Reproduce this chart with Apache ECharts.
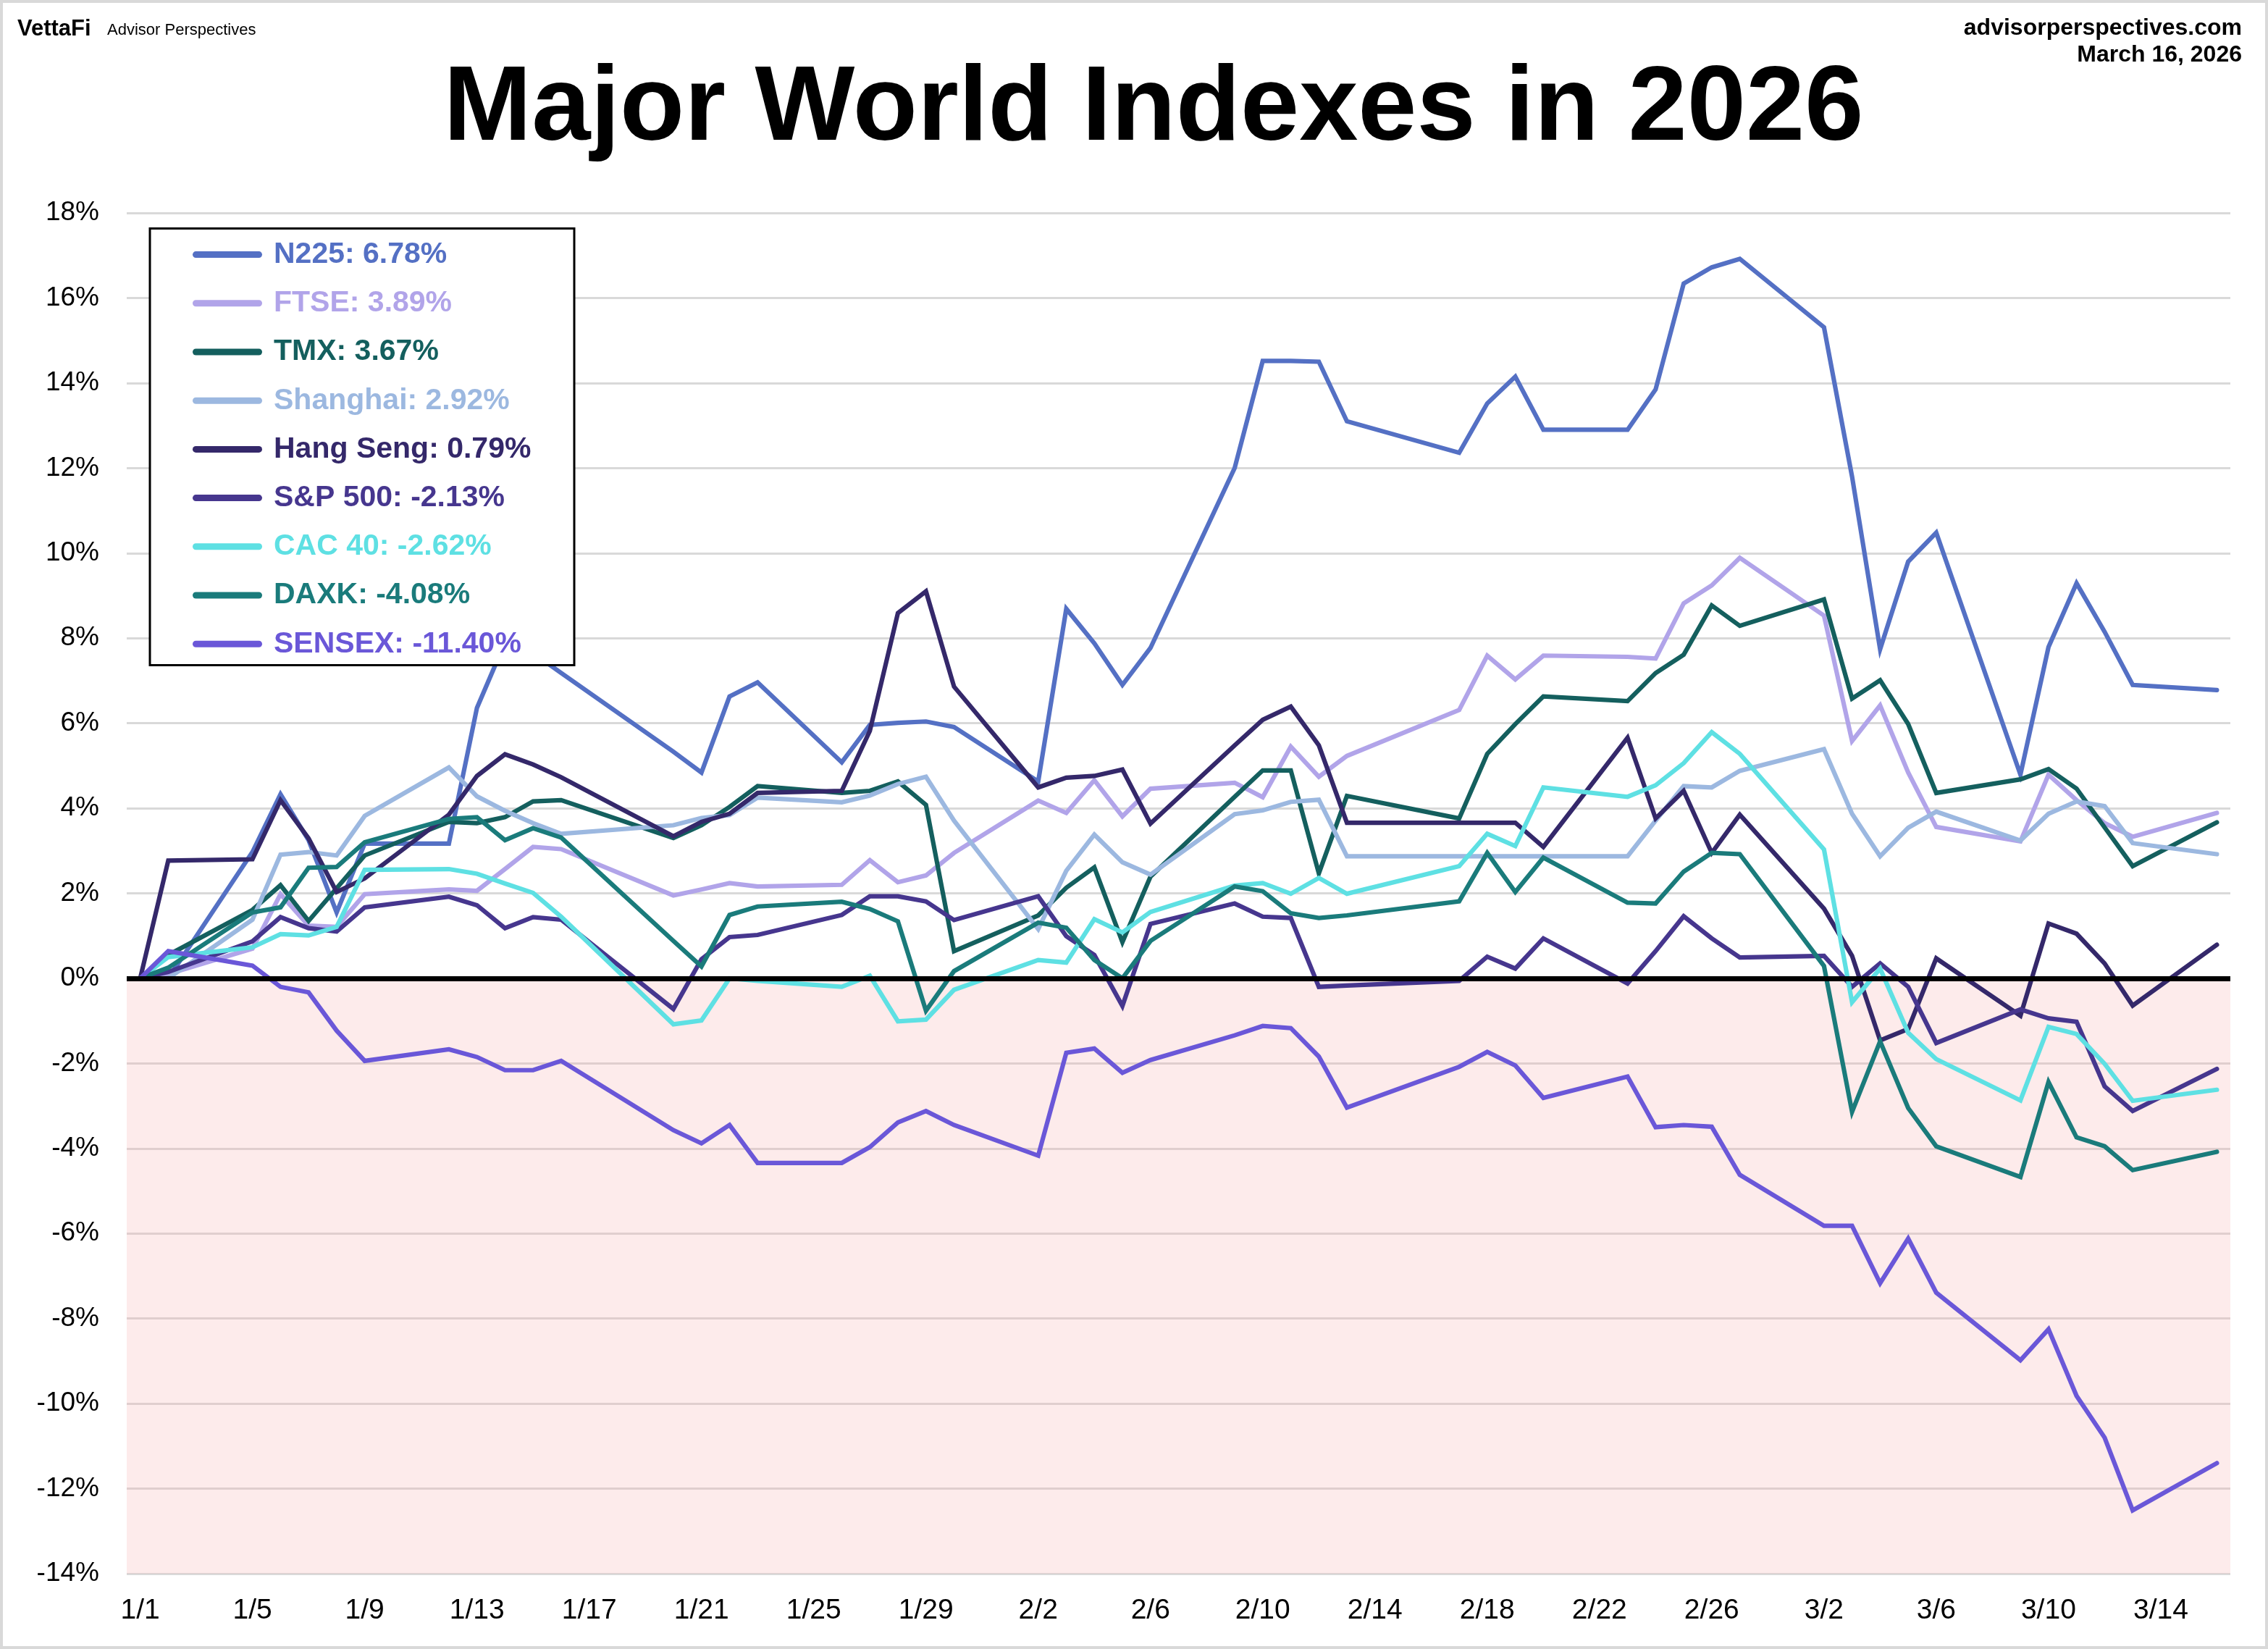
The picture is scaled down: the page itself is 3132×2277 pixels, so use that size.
<!DOCTYPE html>
<html>
<head>
<meta charset="utf-8">
<script src="https://cdn.jsdelivr.net/npm/echarts@6/dist/echarts.min.js"></script>
<style>
html,body{margin:0;padding:0;background:#fff;}
#chart{width:3132px;height:2277px;}
</style>
</head>
<body>
<div id="chart"></div>
<script>
// ---- data ----
const dates = ['2026-01-01','2026-01-02','2026-01-05','2026-01-06','2026-01-07','2026-01-08','2026-01-09','2026-01-12','2026-01-13','2026-01-14','2026-01-15','2026-01-16','2026-01-20','2026-01-21','2026-01-22','2026-01-23','2026-01-26','2026-01-27','2026-01-28','2026-01-29','2026-01-30','2026-02-02','2026-02-03','2026-02-04','2026-02-05','2026-02-06','2026-02-09','2026-02-10','2026-02-11','2026-02-12','2026-02-13','2026-02-17','2026-02-18','2026-02-19','2026-02-20','2026-02-23','2026-02-24','2026-02-25','2026-02-26','2026-02-27','2026-03-02','2026-03-03','2026-03-04','2026-03-05','2026-03-06','2026-03-09','2026-03-10','2026-03-11','2026-03-12','2026-03-13','2026-03-16'];

const n225 = [0,0,2.97,4.33,3.25,1.55,3.17,3.17,6.36,7.9,7.65,7.18,5.33,4.84,6.63,6.96,5.08,5.96,6.01,6.04,5.91,4.63,8.69,7.88,6.9,7.77,12.0,14.52,14.52,14.5,13.1,12.36,13.52,14.15,12.9,12.9,13.85,16.34,16.72,16.92,15.31,11.8,7.74,9.8,10.48,4.79,7.79,9.29,8.15,6.9,6.78];
const ftse = [0,0.1,0.7,1.98,1.24,1.21,1.98,2.09,2.06,2.57,3.09,3.04,1.95,2.09,2.24,2.16,2.2,2.78,2.26,2.42,2.95,4.18,3.89,4.66,3.81,4.46,4.6,4.26,5.45,4.74,5.23,6.31,7.59,7.03,7.59,7.56,7.52,8.82,9.24,9.89,8.53,5.58,6.42,4.84,3.56,3.22,4.79,4.19,3.65,3.33,3.89];
const tmx = [0,0.55,1.61,2.19,1.35,2.12,2.89,3.68,3.65,3.79,4.16,4.19,3.3,3.6,4.03,4.52,4.36,4.41,4.63,4.08,0.64,1.48,2.13,2.61,0.85,2.39,4.27,4.89,4.89,2.47,4.29,3.76,5.28,5.98,6.63,6.52,7.18,7.61,8.77,8.29,8.91,6.58,7.01,5.98,4.36,4.68,4.92,4.46,3.55,2.64,3.67];
const shanghai = [0,0,1.38,2.91,2.97,2.89,3.82,4.96,4.28,3.94,3.65,3.4,3.6,3.77,3.84,4.25,4.14,4.3,4.57,4.74,3.71,1.16,2.53,3.38,2.73,2.44,3.86,3.95,4.15,4.2,2.87,2.87,2.87,2.87,2.87,2.87,3.71,4.52,4.49,4.88,5.39,3.87,2.87,3.54,3.92,3.24,3.87,4.16,4.05,3.18,2.92];
const hangSeng = [0,2.77,2.8,4.19,3.29,2.03,2.35,3.85,4.76,5.27,5.03,4.73,3.34,3.68,3.87,4.36,4.41,5.82,8.59,9.1,6.86,4.49,4.72,4.76,4.91,3.64,5.48,6.08,6.39,5.48,3.66,3.66,3.66,3.66,3.09,5.66,3.76,4.41,2.95,3.85,1.64,0.53,-1.46,-1.19,0.47,-0.88,1.29,1.05,0.35,-0.64,0.79];
const sp500 = [0,0.15,0.87,1.44,1.18,1.1,1.67,1.92,1.72,1.18,1.44,1.38,-0.72,0.45,0.97,1.02,1.49,1.93,1.93,1.81,1.37,1.93,0.99,0.55,-0.65,1.28,1.76,1.45,1.42,-0.2,-0.17,-0.06,0.51,0.23,0.94,-0.12,0.64,1.46,0.94,0.49,0.53,-0.2,0.35,-0.2,-1.52,-0.73,-0.94,-1.02,-2.54,-3.12,-2.13];
const cac40 = [0,0.5,0.73,1.04,1.01,1.21,2.55,2.57,2.46,2.23,2.01,1.45,-1.08,-0.99,0.0,-0.06,-0.2,0.06,-1.01,-0.97,-0.27,0.43,0.37,1.39,1.08,1.56,2.18,2.24,1.99,2.36,1.99,2.64,3.4,3.11,4.49,4.27,4.54,5.06,5.79,5.28,3.03,-0.56,0.23,-1.28,-1.9,-2.87,-1.14,-1.31,-2.01,-2.88,-2.62];
const daxk = [0,0.25,1.55,1.67,2.6,2.62,3.2,3.75,3.79,3.25,3.53,3.31,0.88,0.28,1.49,1.69,1.8,1.63,1.34,-0.76,0.17,1.31,1.19,0.43,0.0,0.88,2.16,2.05,1.53,1.42,1.48,1.81,2.95,2.03,2.84,1.78,1.76,2.51,2.95,2.92,0.29,-3.14,-1.48,-3.05,-3.95,-4.67,-2.44,-3.74,-3.95,-4.51,-4.08];
const sensex = [0,0.64,0.3,-0.2,-0.33,-1.23,-1.94,-1.67,-1.85,-2.16,-2.16,-1.94,-3.57,-3.88,-3.45,-4.34,-4.34,-3.97,-3.39,-3.12,-3.45,-4.17,-1.75,-1.65,-2.22,-1.92,-1.34,-1.12,-1.17,-1.84,-3.04,-2.08,-1.73,-2.05,-2.81,-2.31,-3.5,-3.45,-3.49,-4.62,-5.82,-5.82,-7.17,-6.12,-7.39,-8.98,-8.25,-9.82,-10.8,-12.51,-11.40];

const seriesNames = ['N225','FTSE','TMX','Shanghai','Hang Seng','S&P 500','CAC 40','DAXK','SENSEX'];
const seriesValues = [n225, ftse, tmx, shanghai, hangSeng, sp500, cac40, daxk, sensex];
const seriesColors = ['#5470c4','#b1a4e9','#145f5e','#9cb8e0','#34286a','#46368e','#5ee0e3','#1a7b7b','#6a57d8'];

const xTickLabels = ['1/1','1/5','1/9','1/13','1/17','1/21','1/25','1/29','2/2','2/6','2/10','2/14','2/18','2/22','2/26','3/2','3/6','3/10','3/14'];
const yTickMin = -14, yTickMax = 18, yTickStep = 2;

// ---- helpers ----
const DAY = 86400000;
const t0 = Date.parse('2026-01-01');
function dayOffset(iso){ return (Date.parse(iso) - t0) / DAY; }
function labelToDay(lbl){ const p = lbl.split('/'); return (Date.UTC(2026, +p[0]-1, +p[1]) - t0) / DAY; }
const tickDays = xTickLabels.map(labelToDay);
const dayToLabel = {}; xTickLabels.forEach((l,i)=>{ dayToLabel[tickDays[i]] = l; });
const xs = dates.map(dayOffset);

const FONT = '"Liberation Sans", Arial, Helvetica, sans-serif';
const legendNames = seriesNames.map((n,i)=> n + ': ' + seriesValues[i][seriesValues[i].length-1].toFixed(2) + '%');

const series = [{
  type:'line', name:'__bg', data:[], z:1, silent:true,
  markArea:{silent:true, itemStyle:{color:'rgba(247,175,175,0.25)'}, data:[[{yAxis:0},{yAxis:yTickMin}]]},
  markLine:{silent:true, symbol:['none','none'], label:{show:false}, lineStyle:{color:'#000', width:7, type:'solid'}, data:[{yAxis:0}]}
}];
seriesValues.forEach((vals,i)=>{
  series.push({
    type:'line', name:legendNames[i], color:seriesColors[i],
    data: vals.map((v,k)=>[xs[k], v]),
    showSymbol:false, symbol:'none', animation:false,
    lineStyle:{width:6.2, color:seriesColors[i], cap:'round', join:'miter'},
    z:3
  });
});

const chart = echarts.init(document.getElementById('chart'), null, {renderer:'canvas'});
chart.setOption({
  animation:false,
  backgroundColor:'#fff',
  textStyle:{fontFamily:FONT},
  grid:{left:175, right:52, top:294, bottom:104, containLabel:false, outerBoundsMode:'none'},
  xAxis:{
    type:'value', min:-0.48, max:74.48,
    axisLine:{show:false}, axisTick:{show:false}, splitLine:{show:false},
    axisLabel:{customValues:tickDays, formatter:(v)=>dayToLabel[v] || '', color:'#000', fontSize:39, fontFamily:FONT, margin:32}
  },
  yAxis:{
    type:'value', min:yTickMin, max:yTickMax, interval:yTickStep,
    axisLine:{show:false}, axisTick:{show:false},
    splitLine:{lineStyle:{color:'#d9d9d9', width:3}},
    axisLabel:{formatter:'{value}%', color:'#000', fontSize:37, fontFamily:FONT, margin:38}
  },
  legend:{
    orient:'vertical', left:266, top:318, selectedMode:false,
    backgroundColor:'transparent', borderWidth:0,
    padding:0, itemWidth:96, itemHeight:9, itemGap:0,
    icon:'path://M4.5,0 H91.5 A4.5,4.5 0 0 1 91.5,9 H4.5 A4.5,4.5 0 0 1 4.5,0 Z',
    textStyle:{fontSize:41, fontWeight:'bold', fontFamily:FONT, lineHeight:67.2, padding:[0,0,0,11]},
    data: legendNames.map((n,i)=>({name:n, textStyle:{color:seriesColors[i]}}))
  },
  graphic:[
    {type:'rect', shape:{x:207, y:315.5, width:586, height:603}, style:{fill:'#fff', stroke:'#000', lineWidth:3}, z:3.5, silent:true},
    {type:'text', x:24, y:40, style:{text:'VettaFi', font:'bold 31px '+FONT, fill:'#000', align:'left', verticalAlign:'middle'}},
    {type:'text', x:148, y:42, style:{text:'Advisor Perspectives', font:'22px '+FONT, fill:'#000', align:'left', verticalAlign:'middle'}},
    {type:'text', x:3096, y:39, style:{text:'advisorperspectives.com', font:'bold 32px '+FONT, fill:'#000', align:'right', verticalAlign:'middle'}},
    {type:'text', x:3096, y:76, style:{text:'March 16, 2026', font:'bold 32px '+FONT, fill:'#000', align:'right', verticalAlign:'middle'}},
    {type:'text', x:1593, y:153, style:{text:'Major World Indexes in 2026', font:'bold 146px '+FONT, fill:'#000', align:'center', verticalAlign:'middle'}},
    {type:'rect', shape:{x:2, y:2, width:3128, height:2273}, style:{fill:'none', stroke:'#d9d9d9', lineWidth:4}, z:100, silent:true}
  ],
  series: series
});
</script>
</body>
</html>
